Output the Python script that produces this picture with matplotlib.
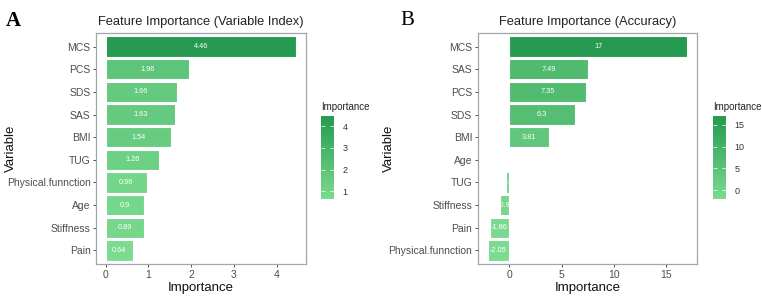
import matplotlib
matplotlib.use("Agg")
import matplotlib.pyplot as plt
import numpy as np
from matplotlib.colors import LinearSegmentedColormap, Normalize
from matplotlib.colorbar import ColorbarBase

plt.rcParams['font.family'] = ['Liberation Sans', 'DejaVu Sans']

# Data (top to bottom)
vars_a = ["MCS", "PCS", "SDS", "SAS", "BMI", "TUG", "Physical.funnction", "Age", "Stiffness", "Pain"]
vals_a = [4.46, 1.96, 1.66, 1.63, 1.54, 1.26, 0.96, 0.9, 0.89, 0.64]
labels_a = ["4.46", "1.96", "1.66", "1.63", "1.54", "1.26", "0.96", "0.9", "0.89", "0.64"]

vars_b = ["MCS", "SAS", "PCS", "SDS", "BMI", "Age", "TUG", "Stiffness", "Pain", "Physical.funnction"]
vals_b = [17, 7.49, 7.35, 6.3, 3.81, 0.1, -0.3, -0.9, -1.86, -2.05]
labels_b = ["17", "7.49", "7.35", "6.3", "3.81", "0.1", "-0.3", "-0.9", "-1.86", "-2.05"]

titles = ["Feature Importance (Variable Index)", "Feature Importance (Accuracy)"]
xticks_a = [0, 1, 2, 3, 4]
xticks_b = [0, 5, 10, 15]
cbticks_a = [1, 2, 3, 4]
cbticks_b = [0, 5, 10, 15]

cmap = LinearSegmentedColormap.from_list("g", ["#7BDB8F", "#259A50"])
grey_txt = "#4D4D4D"
border = "#9EA8AE"

fig = plt.figure(figsize=(7.62, 2.99), dpi=100)

def panel(rect, cbrect, names, vals, labels, title, xticks, cbticks):
    ax = fig.add_axes(rect)
    vals = np.array(vals, dtype=float)
    n = len(names)
    y = np.arange(n)[::-1]
    norm = Normalize(vals.min(), vals.max())
    ax.barh(y, vals, height=0.9, color=cmap(norm(vals)), edgecolor="white", linewidth=0.8, zorder=2)
    for yi, v, lab in zip(y, vals, labels):
        ax.text(v / 2, yi, lab, color="white", fontsize=5.3, ha="center", va="center", zorder=3, clip_on=True)
    rng = vals.max() - min(vals.min(), 0)
    lo = min(vals.min(), 0) - 0.05 * rng
    hi = vals.max() + 0.05 * rng
    ax.set_xlim(lo, hi)
    ax.set_ylim(-0.6, n - 0.4)
    ax.set_yticks(y)
    ax.set_yticklabels(names)
    ax.set_xticks(xticks)
    ax.tick_params(axis="both", colors="#333333", labelcolor=grey_txt, labelsize=7.5, length=2.5, width=0.6, pad=1.5)
    for s in ax.spines.values():
        s.set_color(border)
        s.set_linewidth(0.9)
    ax.set_title(title, fontsize=9.3, color="#222222", pad=6)
    ax.set_xlabel("Importance", fontsize=9.5, color="#111111", labelpad=2)
    ax.set_ylabel("Variable", fontsize=9.5, color="#111111")
    ax.yaxis.set_label_coords(-0.377, 0.5)
    cax = fig.add_axes(cbrect)
    cb = ColorbarBase(cax, cmap=cmap, norm=norm, orientation="vertical")
    cb.outline.set_visible(False)
    cb.set_ticks(cbticks)
    cax.yaxis.set_ticks_position("both")
    cax.yaxis.set_label_position("right")
    cax.tick_params(labelsize=6.5, labelcolor="#333333", length=3, width=0.5, color="white",
                    direction="in", pad=6, labelleft=False, labelright=True)
    cax.set_title("Importance", fontsize=7, color="#222222", loc="left", pad=4)
    return ax

axA = panel([0.126, 0.117, 0.2756, 0.7726], [0.4209, 0.3334, 0.0175, 0.2786],
            vars_a, vals_a, labels_a, titles[0], xticks_a, cbticks_a)
axB = panel([0.6269, 0.117, 0.2882, 0.7726], [0.9353, 0.3334, 0.0175, 0.2786],
            vars_b, vals_b, labels_b, titles[1], xticks_b, cbticks_b)

fig.text(0.008, 0.93, "A", fontsize=15, fontweight="bold", family="Liberation Serif", va="center")
fig.text(0.525, 0.93, "B", fontsize=15, family="Liberation Serif", va="center")

fig.savefig("out.png", dpi=100)
